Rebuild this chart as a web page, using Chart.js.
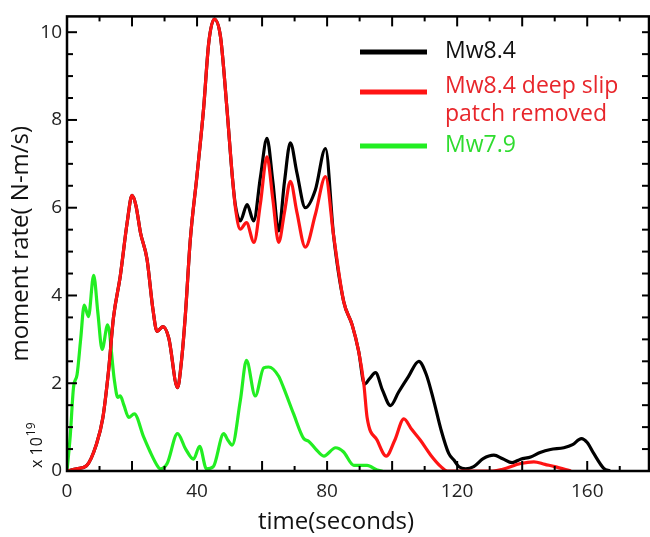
<!DOCTYPE html>
<html>
<head>
<meta charset="utf-8">
<script src="https://cdn.jsdelivr.net/npm/chart.js@4.4.0/dist/chart.umd.min.js"></script>
<style>
  html, body { margin: 0; padding: 0; background: #fff; }
</style>
</head>
<body>
<canvas id="momentChart" width="650" height="537"></canvas>
<script>
// moment rate (x 10^19 N-m/s) against time (s)
const seriesNames = ['Mw8.4', 'Mw8.4 deep slip\npatch removed', 'Mw7.9'];

const blackTime = [0, 3, 6, 9, 11, 12.8, 14.3, 16.4, 18.5, 20, 21.2, 22.6, 24.6, 26.4, 27.7, 29.5, 31.3, 34, 35.2, 36.4,
  37.9, 40, 42, 43.6, 45.3, 47.2, 49.2, 50.8, 51.8, 53.3, 55.4, 57.4, 59.5, 61.5, 63.3, 65.1, 66.9, 68.7, 70.7, 73.3,
  76.4, 79.5, 82, 85.1, 87.7, 89.7, 91.5, 93, 94.9, 97, 99.5, 102, 105, 108.2, 110.5, 112.8, 115, 117.4, 119, 120.5,
  122.6, 125.1, 128, 131.3, 134, 136.9, 139.5, 142.6, 145.5, 148.7, 152.8, 155.5, 158.2, 160, 162, 165.1, 167];
const blackRate = [0, 0.05, 0.12, 0.6, 1.2, 2.3, 3.5, 4.45, 5.66, 6.28, 6.05, 5.43, 4.83, 3.7, 3.18, 3.29, 3.03, 1.9, 2.5, 3.55,
  5.25, 6.75, 8.25, 9.76, 10.3, 9.9, 8.25, 6.75, 6.05, 5.7, 6.07, 5.7, 6.7, 7.58, 6.6, 5.47, 6.6, 7.48, 6.8, 6.0,
  6.41, 7.35, 5.36, 3.86, 3.33, 2.73, 1.98, 2.1, 2.24, 1.85, 1.49, 1.8, 2.15, 2.5, 2.2, 1.6, 0.95, 0.4, 0.25, 0.1,
  0.05, 0.1, 0.28, 0.36, 0.28, 0.19, 0.27, 0.32, 0.42, 0.49, 0.53, 0.6, 0.74, 0.65, 0.4, 0.06, 0];

const redTime = [0, 3, 6, 9, 11, 12.8, 14.3, 16.4, 18.5, 20, 21.2, 22.6, 24.6, 26.4, 27.7, 29.5, 31.3, 34, 35.2, 36.4,
  37.9, 40, 42, 43.6, 45.3, 47.2, 49.2, 50.8, 51.8, 53.3, 55.2, 57.5, 59.5, 61.5, 63.3, 65.1, 66.9, 68.7, 70.7, 73.3,
  76.4, 79.5, 82, 85.1, 87.7, 89.7, 91.3, 92.3, 95.4, 98.2, 100.8, 103.6, 106, 108.7, 112, 115, 117, 131, 134, 139.5,
  143.6, 147, 150, 155];
const redRate = [0, 0.05, 0.12, 0.6, 1.2, 2.3, 3.5, 4.45, 5.66, 6.28, 6.05, 5.43, 4.83, 3.7, 3.18, 3.29, 3.03, 1.9, 2.5, 3.55,
  5.25, 6.75, 8.25, 9.76, 10.3, 9.9, 8.25, 6.75, 6.0, 5.51, 5.66, 5.21, 6.1, 7.16, 6.2, 5.21, 5.9, 6.6, 5.9, 5.1,
  5.85, 6.71, 5.36, 3.86, 3.33, 2.73, 1.98, 1.22, 0.7, 0.34, 0.7, 1.19, 0.95, 0.7, 0.35, 0.1, 0, 0, 0.04, 0.17,
  0.21, 0.15, 0.1, 0];

const greenTime = [0, 1, 2, 3.1, 4.2, 5.3, 6.6, 8.2, 9.5, 10.8, 12.5, 14.6, 15.6, 16.4, 17.5, 19, 20.7, 23.6, 25.5, 27.7,
  28.7, 30.8, 34, 36.5, 38.9, 40.8, 42.9, 45, 48.2, 49.5, 50.8, 53.3, 55.2, 57.9, 60.5, 62, 65.1, 66.6, 69.7, 72.8,
  74.3, 76.5, 79, 82.6, 85, 88.2, 92.3, 95.4, 97];
const greenRate = [0, 0.8, 1.9, 2.2, 3.0, 3.78, 3.52, 4.46, 3.6, 2.77, 3.33, 2.05, 1.68, 1.71, 1.5, 1.22, 1.3, 0.77, 0.45, 0.13,
  0.05, 0.17, 0.85, 0.5, 0.27, 0.56, 0.05, 0.1, 0.85, 0.7, 0.59, 1.6, 2.52, 1.71, 2.35, 2.37, 2.16, 1.9, 1.3, 0.74,
  0.68, 0.5, 0.34, 0.53, 0.44, 0.13, 0.13, 0.02, 0];

const xTicks = [0, 40, 80, 120, 160];
const yTicks = [0, 2, 4, 6, 8, 10];

const FONT = '"Open Sans", "DejaVu Sans", sans-serif';

function toPoints(ts, vs) {
  return ts.map((t, i) => ({ x: t, y: vs[i] }));
}

// frame with inward ticks, the legend, x title and the x10^19 note
const framePlugin = {
  id: 'frame',
  afterDraw(chart) {
    const ctx = chart.ctx;
    const { left, right, top, bottom } = chart.chartArea;
    const xs = chart.scales.x, ys = chart.scales.y;
    const seg = (x1, y1, x2, y2) => { ctx.beginPath(); ctx.moveTo(x1, y1); ctx.lineTo(x2, y2); ctx.stroke(); };
    ctx.save();
    ctx.strokeStyle = '#000';
    ctx.lineWidth = 2;
    for (let t = 10; t < xs.max; t += 10) {
      const px = xs.getPixelForValue(t);
      const len = t % 20 === 0 ? 10 : 5;
      seg(px, bottom, px, bottom - len);
      seg(px, top, px, top + len);
    }
    for (let k = 1; k * 0.5 < ys.max; k++) {
      const py = ys.getPixelForValue(k * 0.5);
      seg(left, py, left + (k % 4 === 0 ? 10 : 6), py);
      seg(right, py, right - 7, py);
    }
    ctx.lineWidth = 2.5;
    ctx.strokeRect(left, top, right - left, bottom - top);

    // legend
    const rows = [{ line: 52, text: 51 }, { line: 92, text: 86 }, { line: 146, text: 145 }];
    ctx.font = '23px ' + FONT;
    ctx.textBaseline = 'middle';
    ctx.textAlign = 'left';
    chart.data.datasets.forEach((ds, i) => {
      ctx.strokeStyle = ds.borderColor;
      ctx.lineWidth = 5;
      seg(360, rows[i].line, 427, rows[i].line);
      ctx.fillStyle = ds.legendColor;
      ds.label.split('\n').forEach((txt, j) => ctx.fillText(txt, 445, rows[i].text + j * 28));
    });

    // x axis title
    ctx.fillStyle = '#111';
    ctx.textAlign = 'center';
    ctx.font = '24px ' + FONT;
    ctx.fillText('time(seconds)', 336, 522);

    // x 10^19
    ctx.translate(42, 468);
    ctx.rotate(-Math.PI / 2);
    ctx.textAlign = 'left';
    ctx.textBaseline = 'alphabetic';
    ctx.font = '16px ' + FONT;
    ctx.fillText('x 10', 0, 0);
    const w = ctx.measureText('x 10').width;
    ctx.font = '12px ' + FONT;
    ctx.fillText('19', w + 1, -7);
    ctx.restore();
  }
};

new Chart(document.getElementById('momentChart'), {
  type: 'line',
  data: {
    datasets: [
      {
        label: seriesNames[0],
        data: toPoints(blackTime, blackRate),
        borderColor: '#000000',
        legendColor: '#111111',
        order: 1
      },
      {
        label: seriesNames[1],
        data: toPoints(redTime, redRate),
        borderColor: '#ff1414',
        legendColor: '#e8262b',
        order: 0
      },
      {
        label: seriesNames[2],
        data: toPoints(greenTime, greenRate),
        borderColor: '#22ee22',
        legendColor: '#2fdc2f',
        order: 2
      }
    ]
  },
  options: {
    responsive: false,
    animation: false,
    layout: { padding: { top: 12, right: 1, bottom: 0, left: 0 } },
    elements: {
      line: { borderWidth: 3.2, cubicInterpolationMode: 'monotone', fill: false },
      point: { radius: 0 }
    },
    scales: {
      x: {
        type: 'linear',
        min: 0,
        max: 179,
        grid: { display: false, drawTicks: false },
        border: { display: false },
        afterFit: (s) => { s.height = 66; },
        afterBuildTicks: (s) => { s.ticks = xTicks.map(v => ({ value: v })); },
        ticks: { padding: 9, color: '#222', font: { size: 19, family: FONT }, maxRotation: 0 }
      },
      y: {
        min: 0,
        max: 10.36,
        grid: { display: false, drawTicks: false },
        border: { display: false },
        afterFit: (s) => { s.width = 67; },
        afterBuildTicks: (s) => { s.ticks = yTicks.map(v => ({ value: v })); },
        ticks: { padding: 5, color: '#222', font: { size: 19, family: FONT } },
        title: {
          display: true,
          text: 'moment rate( N-m/s)',
          color: '#111',
          font: { size: 24, family: FONT },
          padding: { top: 7, bottom: 0 }
        }
      }
    },
    plugins: {
      legend: { display: false },
      tooltip: { enabled: false }
    }
  },
  plugins: [framePlugin]
});
</script>
</body>
</html>
